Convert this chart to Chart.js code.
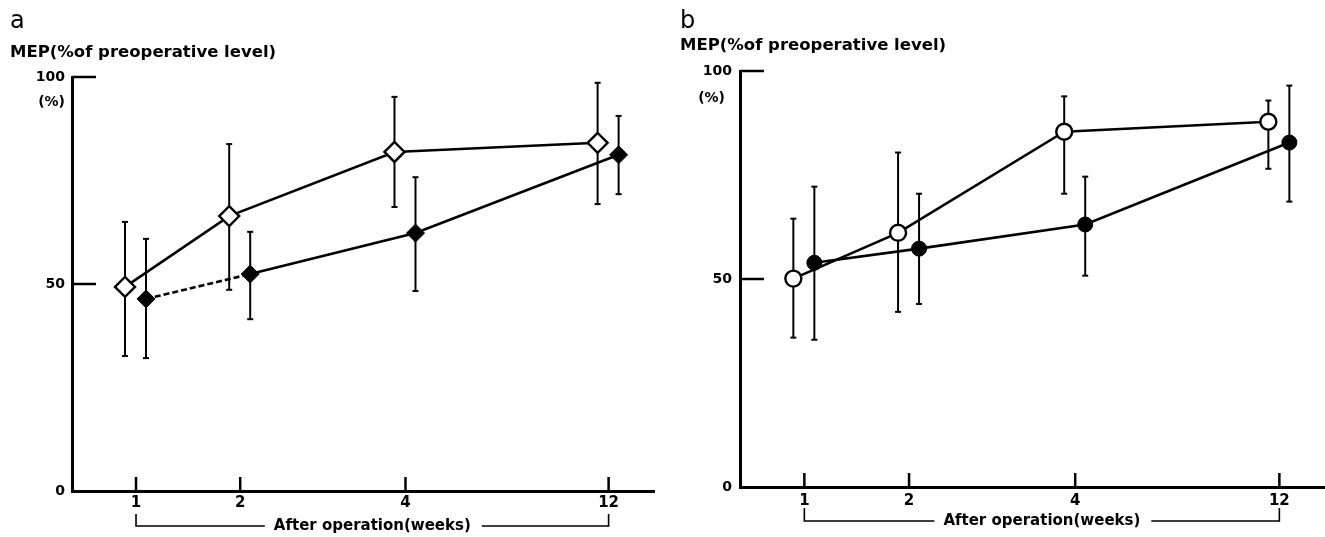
<!DOCTYPE html>
<html>
<head>
<meta charset="utf-8">
<script src="https://cdn.jsdelivr.net/npm/chart.js@4.4.1/dist/chart.umd.min.js"></script>
<style>
  html, body { margin: 0; padding: 0; background: #fff; }
  #page { position: relative; width: 1325px; height: 537px; overflow: hidden; font-family: "DejaVu Sans", sans-serif; color: #000; }
  canvas { position: absolute; top: 0; }
  .lbl { position: absolute; line-height: 1; white-space: nowrap; }
  .panel { font-size: 24px; }
  .ytitle { font-size: 16.5px; font-weight: bold; }
  .unit { font-size: 14px; font-weight: bold; text-align: right; }
</style>
</head>
<body>
<div id="page">
  <canvas id="chartA" width="662" height="537" style="left:0"></canvas>
  <canvas id="chartB" width="663" height="537" style="left:662px"></canvas>
  <div class="lbl panel" style="left:10px;top:8px">a</div>
  <div class="lbl ytitle" style="left:10px;top:44px">MEP(%of preoperative level)</div>
  <div class="lbl unit" style="left:28px;width:37px;top:94px">(%)</div>
  <div class="lbl panel" style="left:680px;top:8px">b</div>
  <div class="lbl ytitle" style="left:680px;top:37px">MEP(%of preoperative level)</div>
  <div class="lbl unit" style="left:688px;width:37px;top:90px">(%)</div>
</div>
<script>
// weeks after operation, y ticks
const weeks = [1, 2, 4, 12];
const yTicks = [0, 50, 100];
const xTitle = "After operation(weeks)";

// panel a (open = diamonds, filled = black diamonds)
const aOpenMean = [49.3, 66.4, 81.9, 84.1];
const aOpenLow = [32.6, 48.6, 68.6, 69.3];
const aOpenHigh = [65.0, 83.8, 95.2, 98.6];
const aFilledMean = [46.4, 52.4, 62.3, 81.2];
const aFilledLow = [32.1, 41.5, 48.3, 71.7];
const aFilledHigh = [60.9, 62.6, 75.8, 90.6];

// panel b (open / filled circles)
const bOpenMean = [50.1, 61.1, 85.4, 87.8];
const bOpenLow = [35.9, 42.1, 70.5, 76.5];
const bOpenHigh = [64.5, 80.4, 93.9, 92.9];
const bFilledMean = [53.9, 57.3, 63.1, 82.8];
const bFilledLow = [35.4, 44.0, 50.8, 68.6];
const bFilledHigh = [72.2, 70.5, 74.6, 96.5];

// where the week ticks sit along the x axis (fraction of axis length)
const AXIS_STOPS = [[0, 0], [1, 0.110], [2, 0.289], [4, 0.573], [12, 0.922], [13, 1]];

class WeekScale extends Chart.LinearScale {
  getPixelForValue(value) {
    let f = value / 13;
    for (let i = 0; i < AXIS_STOPS.length - 1; i++) {
      const [v0, f0] = AXIS_STOPS[i];
      const [v1, f1] = AXIS_STOPS[i + 1];
      if (value >= v0 && value <= v1) {
        f = f0 + (f1 - f0) * (value - v0) / (v1 - v0);
        break;
      }
    }
    return this.left + f * this.width;
  }
}
WeekScale.id = "week";
WeekScale.defaults = { ticks: { callback: v => String(v) } };
Chart.register(WeekScale);

function line(ctx, x1, y1, x2, y2) {
  ctx.beginPath();
  ctx.moveTo(x1, y1);
  ctx.lineTo(x2, y2);
  ctx.stroke();
}

const panelExtras = {
  id: "panelExtras",
  afterDatasetsUpdate(chart) {
    // open / filled symbols sit a little left / right of the tick
    chart.data.datasets.forEach((ds, i) => {
      chart.getDatasetMeta(i).data.forEach(pt => { pt.x += ds.shift || 0; });
    });
  },
  beforeDatasetsDraw(chart) {
    const { ctx, chartArea } = chart;
    const x = chart.scales.x, y = chart.scales.y;
    ctx.save();
    ctx.strokeStyle = "#000";
    ctx.lineWidth = 2.5;
    [50, 100].forEach(v => {
      const py = y.getPixelForValue(v);
      line(ctx, chartArea.left, py, chartArea.left + 24, py);
    });
    weeks.forEach(w => {
      const px = x.getPixelForValue(w);
      line(ctx, px, chartArea.bottom, px, chartArea.bottom - 14);
    });
    // error bars
    ctx.lineWidth = 2;
    chart.data.datasets.forEach((ds, i) => {
      chart.getDatasetMeta(i).data.forEach((pt, j) => {
        const top = y.getPixelForValue(ds.errHigh[j]);
        const bot = y.getPixelForValue(ds.errLow[j]);
        line(ctx, pt.x, top, pt.x, bot);
        line(ctx, pt.x - 3, top, pt.x + 3, top);
        line(ctx, pt.x - 3, bot, pt.x + 3, bot);
      });
    });
    ctx.restore();
  },
  afterDraw(chart, args, opts) {
    const { ctx, chartArea } = chart;
    const x = chart.scales.x;
    ctx.save();
    ctx.fillStyle = "#000";
    ctx.textAlign = "center";
    ctx.textBaseline = "middle";
    // week labels under the ticks
    ctx.font = 'bold 15px "DejaVu Sans"';
    weeks.forEach(w => ctx.fillText(String(w), x.getPixelForValue(w), chartArea.bottom + opts.labelGap));

    // bracket with the axis title
    const x1 = x.getPixelForValue(weeks[0]);
    const x2 = x.getPixelForValue(weeks[weeks.length - 1]);
    const yt = chartArea.bottom + opts.rise;
    const yb = chartArea.bottom + opts.drop;
    const tw = ctx.measureText(xTitle).width;
    const cx = (x1 + x2) / 2;
    ctx.strokeStyle = "#000";
    ctx.lineWidth = 1.6;
    ctx.beginPath();
    ctx.moveTo(x1, yt);
    ctx.lineTo(x1, yb);
    ctx.lineTo(cx - tw / 2 - 9, yb);
    ctx.moveTo(cx + tw / 2 + 11, yb);
    ctx.lineTo(x2, yb);
    ctx.lineTo(x2, yt);
    ctx.stroke();
    ctx.fillText(xTitle, cx, yb);
    ctx.restore();
  }
};

function makePanel(id, p) {
  const pts = arr => weeks.map((w, i) => ({ x: w, y: arr[i] }));
  return new Chart(document.getElementById(id), {
    type: "line",
    data: {
      datasets: [
        {
          label: "filled",
          data: pts(p.filledMean),
          errLow: p.filledLow,
          errHigh: p.filledHigh,
          shift: 10,
          borderColor: "#000",
          borderWidth: 2.6,
          pointStyle: p.marker,
          pointRadius: p.filledR,
          pointBorderWidth: 1,
          pointBackgroundColor: "#000",
          pointBorderColor: "#000",
          segment: { borderDash: c => (p.dashFirst && c.p0DataIndex === 0 ? [6, 3] : undefined) },
          clip: false
        },
        {
          label: "open",
          data: pts(p.openMean),
          errLow: p.openLow,
          errHigh: p.openHigh,
          shift: -11,
          borderColor: "#000",
          borderWidth: 2.6,
          pointStyle: p.marker,
          pointRadius: p.openR,
          pointBorderWidth: 2.4,
          pointBackgroundColor: "#fff",
          pointBorderColor: "#000",
          clip: false
        }
      ]
    },
    options: {
      responsive: false,
      animation: false,
      events: [],
      layout: { autoPadding: false, padding: { top: p.top, right: p.right, left: 0, bottom: 0 } },
      plugins: {
        legend: { display: false },
        tooltip: { enabled: false },
        panelExtras: { rise: p.rise, drop: p.drop, labelGap: p.labelGap }
      },
      scales: {
        x: {
          type: "week",
          min: 0,
          max: 13,
          afterBuildTicks: s => { s.ticks = weeks.map(v => ({ value: v })); },
          afterFit: s => { s.height = p.xHeight; },
          grid: { display: false, drawTicks: false },
          border: { display: true, width: 3, color: "#000" },
          ticks: { display: false }
        },
        y: {
          type: "linear",
          min: 0,
          max: 100,
          afterBuildTicks: s => { s.ticks = yTicks.map(v => ({ value: v })); },
          afterFit: s => { s.width = p.yWidth; s.paddingTop = 0; s.paddingBottom = 0; },
          grid: { display: false, drawTicks: false },
          border: { display: true, width: 3, color: "#000" },
          ticks: {
            padding: p.yPad,
            color: "#000",
            font: { family: "DejaVu Sans", size: 14, weight: "bold" }
          }
        }
      }
    },
    plugins: [panelExtras]
  });
}

makePanel("chartA", {
  openMean: aOpenMean, openLow: aOpenLow, openHigh: aOpenHigh,
  filledMean: aFilledMean, filledLow: aFilledLow, filledHigh: aFilledHigh,
  marker: "rectRot", openR: 10, filledR: 9, dashFirst: true,
  top: 77, right: 8, yWidth: 72, xHeight: 46, labelGap: 12, yPad: 7, rise: 23, drop: 35
});

makePanel("chartB", {
  openMean: bOpenMean, openLow: bOpenLow, openHigh: bOpenHigh,
  filledMean: bFilledMean, filledLow: bFilledLow, filledHigh: bFilledHigh,
  marker: "circle", openR: 8, filledR: 7.5, dashFirst: false,
  top: 71, right: 0, yWidth: 78, xHeight: 50, labelGap: 14, yPad: 8, rise: 21, drop: 34
});
</script>
</body>
</html>
